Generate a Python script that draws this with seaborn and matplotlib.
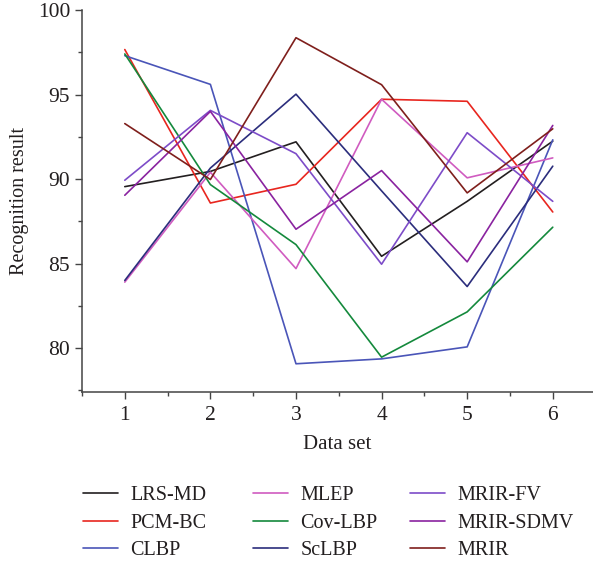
import matplotlib
matplotlib.use("Agg")
import matplotlib.pyplot as plt
from matplotlib.ticker import MultipleLocator
import numpy as np
import pandas as pd
import seaborn as sns

# Recognition results per method on six data sets
datasets = [1, 2, 3, 4, 5, 6]
lrs_md = [89.55, 90.45, 92.2, 85.43, 88.68, 92.24]
pcm_bc = [97.66, 88.58, 89.69, 94.72, 94.6, 88.05]
clbp = [97.3, 95.6, 79.07, 79.36, 80.07, 92.32]
mlep = [83.9, 90.4, 84.7, 94.72, 90.07, 91.25]
cov_lbp = [97.4, 89.67, 86.12, 79.46, 82.14, 87.15]
sclbp = [84.0, 90.65, 95.02, 89.3, 83.64, 90.76]
mrir_fv = [89.93, 94.06, 91.5, 84.96, 92.74, 88.68]
mrir_sdmv = [89.04, 94.0, 87.03, 90.5, 85.1, 93.17]
mrir = [93.28, 89.97, 98.36, 95.58, 89.18, 92.97]

methods = ["LRS-MD", "PCM-BC", "CLBP", "MLEP", "Cov-LBP", "ScLBP",
           "MRIR-FV", "MRIR-SDMV", "MRIR"]
series = [lrs_md, pcm_bc, clbp, mlep, cov_lbp, sclbp, mrir_fv, mrir_sdmv, mrir]
colors = ["#231f20", "#e8261f", "#4a55b8", "#d05bc0", "#14893c", "#2b2d7c",
          "#7d4cc8", "#8a23a0", "#7f1f1c"]

df = pd.DataFrame({
    "Data set": np.tile(datasets, len(methods)),
    "Recognition result": np.concatenate(series),
    "Method": np.repeat(methods, len(datasets)),
})

sns.set_style("ticks")
plt.rcParams["font.family"] = ["Liberation Serif", "DejaVu Serif"]
plt.rcParams["axes.edgecolor"] = "#444444"
plt.rcParams["xtick.color"] = "#444444"
plt.rcParams["ytick.color"] = "#444444"
plt.rcParams["xtick.labelcolor"] = "#231f20"
plt.rcParams["ytick.labelcolor"] = "#231f20"

fig = plt.figure(figsize=(5.93, 5.64), dpi=100)
W, H = 593, 564
ax = fig.add_axes([82 / W, (H - 392) / H, (593 - 82) / W, (392 - 10) / H])

sns.lineplot(data=df, x="Data set", y="Recognition result", hue="Method",
             hue_order=methods, palette=colors, linewidth=1.2, ax=ax,
             legend=True)
handles, labels = ax.get_legend_handles_labels()
ax.get_legend().remove()

ax.set_xlim(0.5, 6.47)
ax.set_ylim(77.4, 100)
ax.set_xticks(datasets)
ax.xaxis.set_minor_locator(MultipleLocator(0.5))
ax.set_yticks([80, 85, 90, 95, 100])
ax.yaxis.set_minor_locator(MultipleLocator(2.5))
ax.tick_params(axis="both", which="major", length=5, width=1.0, labelsize=15.5)
ax.tick_params(axis="both", which="minor", length=3, width=1.0)
ax.tick_params(axis="x", pad=5)
sns.despine(ax=ax)
for s in ("left", "bottom"):
    ax.spines[s].set_linewidth(1.1)

ax.set_xlabel("Data set", fontsize=15, labelpad=7, color="#231f20")
ax.set_ylabel("Recognition result", fontsize=14.5, labelpad=6, color="#231f20")

# Three legend columns placed side by side below the axes
col_x = [83, 253, 410]
for c in range(3):
    lg = fig.legend(handles[3 * c:3 * c + 3], labels[3 * c:3 * c + 3],
                    loc="upper left",
                    bbox_to_anchor=(col_x[c] / W, (H - 486) / H),
                    frameon=False, fontsize=14.5, handlelength=1.75,
                    handletextpad=0.6, labelspacing=0.42,
                    borderaxespad=0, borderpad=0)
    for t in lg.get_texts():
        t.set_color("#231f20")

fig.savefig("out.png", dpi=100)
